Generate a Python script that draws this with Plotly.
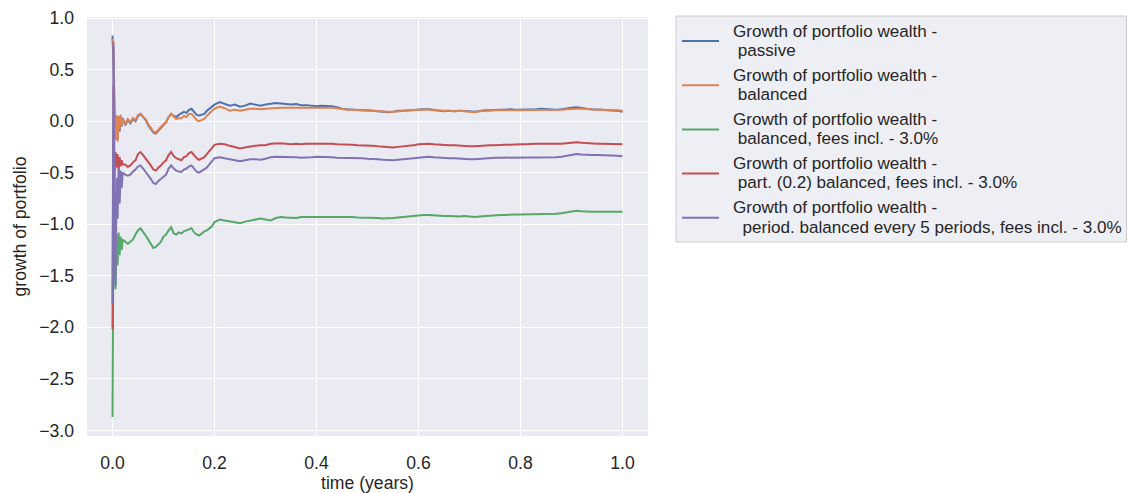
import plotly.graph_objects as go

# ---- time grid (years) ----
TIME_EARLY = [0.000, 0.002, 0.004, 0.006, 0.008, 0.010, 0.012, 0.014, 0.016, 0.018, 0.020]
TIME_MID = [round(0.025 + 0.005 * i, 3) for i in range(36)]      # 0.025 .. 0.200
TIME_LATE = [round(0.21 + 0.01 * i, 2) for i in range(80)]        # 0.21 .. 1.00
TIME = TIME_EARLY + TIME_MID + TIME_LATE

# ---- series values ----
passive = [
    0.83, 0.55, 0.05, -0.15, 0.04, -0.18, 0.02, -0.10, 0.05, -0.05, 0.03,
    -0.04, 0.01, -0.02, 0.02, 0.00, 0.05, 0.07, 0.04, 0.01, -0.04, -0.08, -0.11,
    -0.12, -0.09, -0.07, -0.03, -0.01, 0.04, 0.07, 0.05, 0.04, 0.06, 0.075, 0.09,
    0.08, 0.11, 0.12, 0.09, 0.06, 0.055, 0.06, 0.07, 0.10, 0.12, 0.14, 0.16,
    0.185, 0.17, 0.15, 0.16, 0.14, 0.15, 0.17, 0.16, 0.15, 0.16,
    0.17, 0.175, 0.17, 0.165, 0.16, 0.165, 0.155, 0.155, 0.15, 0.145,
    0.15, 0.15, 0.145, 0.135, 0.12, 0.115, 0.11, 0.11, 0.105, 0.105,
    0.10, 0.095, 0.09, 0.085, 0.09, 0.10, 0.10, 0.105, 0.11, 0.11,
    0.115, 0.115, 0.11, 0.10, 0.095, 0.10, 0.095, 0.10, 0.10, 0.095,
    0.09, 0.10, 0.105, 0.105, 0.11, 0.11, 0.11, 0.115, 0.11, 0.11,
    0.11, 0.11, 0.115, 0.12, 0.115, 0.11, 0.11, 0.115, 0.125, 0.13,
    0.135, 0.125, 0.12, 0.115, 0.115, 0.11, 0.105, 0.105, 0.10, 0.09,
]
balanced = [
    0.80, 0.70, 0.10, -0.18, 0.06, -0.20, 0.05, -0.08, 0.06, -0.04, 0.02,
    -0.03, 0.02, -0.01, 0.03, 0.01, 0.06, 0.07, 0.04, 0.02, -0.03, -0.07, -0.10,
    -0.11, -0.08, -0.06, -0.03, -0.01, 0.04, 0.07, 0.04, 0.02, 0.03, 0.025, 0.05,
    0.04, 0.07, 0.07, 0.04, 0.01, 0.00, 0.01, 0.02, 0.05, 0.08, 0.10, 0.12,
    0.14, 0.125, 0.10, 0.11, 0.10, 0.11, 0.12, 0.12, 0.115, 0.12,
    0.125, 0.13, 0.13, 0.13, 0.13, 0.135, 0.13, 0.135, 0.13, 0.13,
    0.135, 0.135, 0.13, 0.125, 0.115, 0.11, 0.11, 0.105, 0.105, 0.10,
    0.10, 0.095, 0.09, 0.09, 0.09, 0.095, 0.10, 0.10, 0.105, 0.11,
    0.11, 0.115, 0.105, 0.10, 0.10, 0.10, 0.095, 0.10, 0.095, 0.09,
    0.085, 0.095, 0.10, 0.10, 0.105, 0.105, 0.105, 0.11, 0.105, 0.11,
    0.105, 0.105, 0.11, 0.11, 0.11, 0.105, 0.105, 0.11, 0.115, 0.12,
    0.12, 0.12, 0.115, 0.11, 0.11, 0.11, 0.105, 0.105, 0.105, 0.10,
]
balanced_fees = [
    -2.87, -1.00, -1.30, -1.63, -1.10, -1.40, -1.08, -1.30, -1.12, -1.25, -1.15,
    -1.17, -1.19, -1.17, -1.15, -1.10, -1.06, -1.04, -1.07, -1.11, -1.15, -1.19, -1.23,
    -1.22, -1.19, -1.17, -1.12, -1.10, -1.06, -1.03, -1.09, -1.10, -1.08, -1.09, -1.07,
    -1.06, -1.05, -1.04, -1.08, -1.10, -1.11, -1.09, -1.07, -1.06, -1.04, -1.02, -0.98,
    -0.955, -0.965, -0.975, -0.985, -0.99, -0.975, -0.965, -0.955, -0.946, -0.955,
    -0.965, -0.94, -0.93, -0.935, -0.935, -0.94, -0.93, -0.93, -0.93, -0.925,
    -0.925, -0.925, -0.925, -0.93, -0.93, -0.93, -0.93, -0.935, -0.935, -0.935,
    -0.935, -0.94, -0.945, -0.946, -0.94, -0.935, -0.93, -0.92, -0.915, -0.91,
    -0.91, -0.91, -0.915, -0.915, -0.92, -0.92, -0.925, -0.925, -0.92, -0.925,
    -0.93, -0.925, -0.92, -0.915, -0.915, -0.91, -0.91, -0.905, -0.905, -0.905,
    -0.905, -0.90, -0.90, -0.90, -0.90, -0.90, -0.90, -0.895, -0.885, -0.875,
    -0.87, -0.875, -0.88, -0.88, -0.88, -0.88, -0.88, -0.88, -0.88, -0.88,
]
part_balanced_fees = [
    -2.02, 0.35, -0.55, -0.30, -0.45, -0.32, -0.48, -0.35, -0.44, -0.38, -0.42,
    -0.42, -0.445, -0.43, -0.40, -0.38, -0.32, -0.30, -0.33, -0.36, -0.40, -0.43, -0.47,
    -0.48, -0.45, -0.43, -0.40, -0.38, -0.33, -0.30, -0.34, -0.36, -0.37, -0.38, -0.35,
    -0.34, -0.31, -0.30, -0.33, -0.36, -0.375, -0.36, -0.35, -0.32, -0.29, -0.26, -0.23,
    -0.22, -0.225, -0.24, -0.255, -0.265, -0.255, -0.245, -0.24, -0.235, -0.235,
    -0.22, -0.215, -0.215, -0.22, -0.225, -0.22, -0.225, -0.22, -0.22, -0.215,
    -0.215, -0.22, -0.22, -0.225, -0.225, -0.23, -0.23, -0.235, -0.235, -0.24,
    -0.24, -0.245, -0.25, -0.255, -0.255, -0.25, -0.245, -0.245, -0.235, -0.225,
    -0.22, -0.22, -0.225, -0.23, -0.23, -0.235, -0.235, -0.24, -0.24, -0.245,
    -0.245, -0.24, -0.24, -0.235, -0.235, -0.23, -0.23, -0.23, -0.225, -0.225,
    -0.225, -0.22, -0.22, -0.22, -0.22, -0.225, -0.225, -0.22, -0.215, -0.21,
    -0.205, -0.21, -0.215, -0.215, -0.22, -0.22, -0.22, -0.22, -0.22, -0.225,
]
period_balanced_fees = [
    -1.77, 0.77, -1.00, -1.60, -0.55, -0.95, -0.45, -0.80, -0.48, -0.65, -0.50,
    -0.52, -0.53, -0.52, -0.49, -0.47, -0.44, -0.43, -0.46, -0.49, -0.53, -0.56, -0.60,
    -0.61, -0.58, -0.56, -0.54, -0.52, -0.46, -0.43, -0.46, -0.48, -0.49, -0.494, -0.47,
    -0.46, -0.44, -0.43, -0.46, -0.49, -0.50, -0.485, -0.47, -0.45, -0.42, -0.39, -0.36,
    -0.35, -0.36, -0.375, -0.385, -0.39, -0.38, -0.37, -0.37, -0.375, -0.365,
    -0.35, -0.345, -0.345, -0.35, -0.35, -0.35, -0.355, -0.355, -0.35, -0.345,
    -0.345, -0.345, -0.35, -0.355, -0.355, -0.355, -0.36, -0.36, -0.36, -0.365,
    -0.365, -0.37, -0.375, -0.38, -0.38, -0.375, -0.37, -0.365, -0.355, -0.35,
    -0.345, -0.345, -0.35, -0.355, -0.355, -0.36, -0.36, -0.365, -0.365, -0.37,
    -0.37, -0.365, -0.36, -0.355, -0.355, -0.355, -0.355, -0.35, -0.35, -0.35,
    -0.35, -0.35, -0.35, -0.35, -0.35, -0.35, -0.35, -0.345, -0.335, -0.325,
    -0.32, -0.325, -0.33, -0.33, -0.33, -0.33, -0.33, -0.33, -0.335, -0.34,
]

LEGEND_HEAD = "Growth of portfolio wealth -"
LEGEND_TAILS = [
    "\u00a0passive",
    "\u00a0balanced",
    "\u00a0balanced, fees incl. - 3.0%",
    "\u00a0part. (0.2) balanced, fees incl. - 3.0%",
    "\u00a0\u00a0period. balanced every 5 periods, fees incl. - 3.0%",
]
SERIES_VALUES = [passive, balanced, balanced_fees, part_balanced_fees, period_balanced_fees]
COLORS = ["#4C72B0", "#DD8452", "#55A868", "#C44E52", "#8172B3"]

X_TICKS = [0.0, 0.2, 0.4, 0.6, 0.8, 1.0]
Y_TICKS = [-3.0, -2.5, -2.0, -1.5, -1.0, -0.5, 0.0, 0.5, 1.0]

FONT = "Liberation Sans, Arial, sans-serif"
TEXT = "#262626"
FS = 17.6
LEG_FS = 17.1

# ---- geometry (pixels) ----
W, H = 1128, 493
PL, PR, PT, PB = 87, 648, 17, 436


def px_x(x):
    return (x - PL) / (PR - PL)


def px_y(y):
    return (PB - y) / (PB - PT)


fig = go.Figure()
for tail, vals, col in zip(LEGEND_TAILS, SERIES_VALUES, COLORS):
    fig.add_trace(go.Scatter(x=TIME, y=vals, mode="lines",
                             name=LEGEND_HEAD + " " + tail.strip("\u00a0"),
                             line=dict(color=col, width=2), showlegend=False))

# ---- legend drawn as shapes + text ----
shapes = [dict(type="rect", xref="paper", yref="paper",
               x0=px_x(676), x1=px_x(1126.5), y0=px_y(242), y1=px_y(16),
               fillcolor="#EEEEF5", line=dict(color="#CCCCCC", width=1), layer="above")]
annotations = []
ENTRY_STEP = 44.2
for i, (tail, col) in enumerate(zip(LEGEND_TAILS, COLORS)):
    yl = 41 + ENTRY_STEP * i
    shapes.append(dict(type="line", xref="paper", yref="paper",
                       x0=px_x(682), x1=px_x(719), y0=px_y(yl), y1=px_y(yl),
                       line=dict(color=col, width=2), layer="above"))
    for txt, yt in ((LEGEND_HEAD, yl - 10), (tail, yl + 9.3)):
        annotations.append(dict(text=txt, xref="paper", yref="paper",
                                x=px_x(732), y=px_y(yt), xanchor="left", yanchor="middle",
                                showarrow=False, borderpad=0,
                                font=dict(family=FONT, size=LEG_FS, color=TEXT)))

fig.update_layout(
    width=W, height=H,
    margin=dict(l=PL, r=W - PR, t=PT, b=H - PB, autoexpand=False),
    paper_bgcolor="white",
    plot_bgcolor="#EAEAF2",
    font=dict(family=FONT, size=FS, color=TEXT),
    showlegend=False,
    shapes=shapes,
    annotations=annotations,
    xaxis=dict(
        range=[-0.05, 1.05], tickvals=X_TICKS, tickformat=".1f",
        showgrid=True, gridcolor="white", gridwidth=1.3,
        zeroline=False, showline=False, ticks="",
        ticklabelstandoff=14,
        title=dict(text="time (years)", font=dict(size=FS), standoff=2),
        tickfont=dict(size=FS),
    ),
    yaxis=dict(
        range=[-3.055, 1.01], tickvals=Y_TICKS, tickformat=".1f",
        showgrid=True, gridcolor="white", gridwidth=1.3,
        zeroline=False, showline=False, ticks="",
        ticklabelstandoff=12,
        title=dict(text="growth of portfolio", font=dict(size=FS), standoff=8),
        tickfont=dict(size=FS),
    ),
)

fig.write_html("out.html")
